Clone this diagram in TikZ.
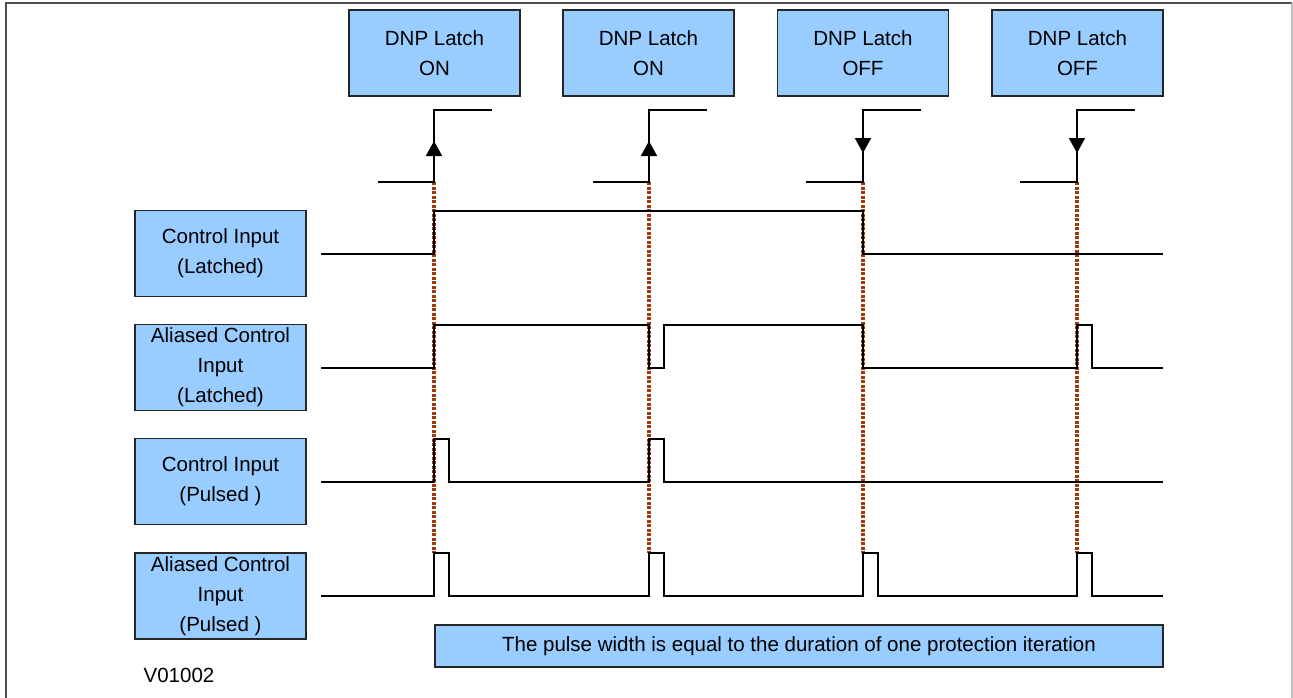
\documentclass[tikz,border=0pt]{standalone}
\usepackage{fontspec}
\setmainfont{Liberation Sans}
\usetikzlibrary{arrows.meta}
\definecolor{boxblue}{RGB}{153,204,255}
\definecolor{markbrown}{RGB}{160,58,14}

\begin{document}
\begin{tikzpicture}[
    x=1pt, y=-1pt,
    font=\fontsize{20.5}{30}\selectfont,
    box/.style={draw=black!85, fill=boxblue, line width=1.2pt, minimum width=171pt, minimum height=86pt, align=center, inner sep=0pt},
    notebox/.style={draw=black!85, fill=boxblue, line width=1.2pt, minimum width=728pt, minimum height=42pt, inner sep=0pt},
    signal/.style={line width=1.8pt, line join=miter},
    marker/.style={markbrown, line width=4pt, dash pattern=on 3pt off 1.5pt},
    trigarrow/.style={line width=1.8pt, -{Triangle[width=16pt,length=15pt]}}
]
    \useasboundingbox (0,0) rectangle (1293,697);

    % Frame
    \draw[black!70, line width=2.5pt] (6,720) -- (6,3) -- (1292,3);
    \draw[black!25, line width=1.5pt] (1292,3) -- (1292,720);

    % DNP commands
    \node[box] (latchon1) at (434.5,53) {DNP Latch\\ON};
    \node[box] (latchon2) at (648.5,53) {DNP Latch\\ON};
    \node[box] (latchoff1) at (863,53) {DNP Latch\\OFF};
    \node[box] (latchoff2) at (1077.5,53) {DNP Latch\\OFF};

    % Signal names
    \node[box] (cilatched) at (220.5,253.5) {Control Input\\(Latched)};
    \node[box] (acilatched) at (220.5,367.5) {Aliased Control\\Input\\(Latched)};
    \node[box] (cipulsed) at (220.5,481.5) {Control Input\\(Pulsed )};
    \node[box] (acipulsed) at (220.5,596) {Aliased Control\\Input\\(Pulsed )};

    % Note and reference
    \node[notebox] (note) at (799,646) {The pulse width is equal to the duration of one protection iteration};
    \node (ref) at (179,675) {V01002};

    % Iteration markers
    \draw[marker] (434,182) -- (434,553);
    \draw[marker] (649,182) -- (649,553);
    \draw[marker] (863,182) -- (863,553);
    \draw[marker] (1077,182) -- (1077,553);

    % Command edges
    \draw[signal] (378,182) -- (434,182) -- (434,110) -- (492,110);
    \draw[trigarrow] (434,170) -- (434,141);
    \draw[signal] (593,182) -- (649,182) -- (649,110) -- (707,110);
    \draw[trigarrow] (649,170) -- (649,141);
    \draw[signal] (806,182) -- (863,182) -- (863,110) -- (921,110);
    \draw[trigarrow] (863,122) -- (863,153);
    \draw[signal] (1020,182) -- (1077,182) -- (1077,110) -- (1135,110);
    \draw[trigarrow] (1077,122) -- (1077,153);

    % Control Input (Latched)
    \draw[signal] (321,254) -- (434,254) -- (434,211) -- (863,211) -- (863,254) -- (1163,254);

    % Aliased Control Input (Latched)
    \draw[signal] (321,368) -- (434,368) -- (434,325) -- (649,325) -- (649,368) -- (664,368) -- (664,325)
        -- (863,325) -- (863,368) -- (1077,368) -- (1077,325) -- (1092,325) -- (1092,368) -- (1163,368);

    % Control Input (Pulsed)
    \draw[signal] (321,482) -- (434,482) -- (434,439) -- (449,439) -- (449,482) -- (649,482) -- (649,439)
        -- (664,439) -- (664,482) -- (1163,482);

    % Aliased Control Input (Pulsed)
    \draw[signal] (321,596) -- (434,596) -- (434,553) -- (449,553) -- (449,596) -- (649,596) -- (649,553)
        -- (664,553) -- (664,596) -- (863,596) -- (863,553) -- (878,553) -- (878,596) -- (1077,596)
        -- (1077,553) -- (1092,553) -- (1092,596) -- (1163,596);
\end{tikzpicture}
\end{document}
